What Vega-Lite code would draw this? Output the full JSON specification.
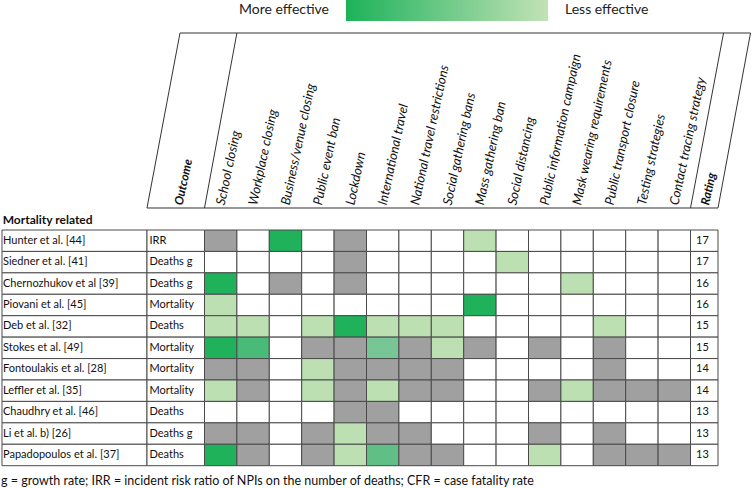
{
  "$schema": "https://vega.github.io/schema/vega-lite/v6.json",
  "width": 752,
  "height": 488,
  "autosize": {"type": "none"},
  "padding": 0,
  "background": "white",
  "config": {"view": {"stroke": null}, "font": "Lato"},
  "datasets": {
    "npis": [
      {"npi": "School closing"}, {"npi": "Workplace closing"}, {"npi": "Business/venue closing"}, {"npi": "Public event ban"}, {"npi": "Lockdown"},
      {"npi": "International travel"}, {"npi": "National travel restrictions"}, {"npi": "Social gathering bans"}, {"npi": "Mass gathering ban"}, {"npi": "Social distancing"},
      {"npi": "Public information campaign"}, {"npi": "Mask wearing requirements"}, {"npi": "Public transport closure"}, {"npi": "Testing strategies"}, {"npi": "Contact tracing strategy"}
    ],
    "studies": [
      {"study": "Hunter et al. [44]", "outcome": "IRR", "rating": 17},
      {"study": "Siedner et al. [41]", "outcome": "Deaths g", "rating": 17},
      {"study": "Chernozhukov et al [39]", "outcome": "Deaths g", "rating": 16},
      {"study": "Piovani et al. [45]", "outcome": "Mortality", "rating": 16},
      {"study": "Deb et al. [32]", "outcome": "Deaths", "rating": 15},
      {"study": "Stokes et al. [49]", "outcome": "Mortality", "rating": 15},
      {"study": "Fontoulakis et al. [28]", "outcome": "Mortality", "rating": 14},
      {"study": "Leffler et al. [35]", "outcome": "Mortality", "rating": 14},
      {"study": "Chaudhry et al. [46]", "outcome": "Deaths", "rating": 13},
      {"study": "Li et al. b) [26]", "outcome": "Deaths g", "rating": 13},
      {"study": "Papadopoulos et al. [37]", "outcome": "Deaths", "rating": 13}
    ],
    "cells": [
      {"study": "Hunter et al. [44]", "npi": "School closing", "effect": "no effect"},
      {"study": "Hunter et al. [44]", "npi": "Workplace closing", "effect": "not studied"},
      {"study": "Hunter et al. [44]", "npi": "Business/venue closing", "effect": "1"},
      {"study": "Hunter et al. [44]", "npi": "Public event ban", "effect": "not studied"},
      {"study": "Hunter et al. [44]", "npi": "Lockdown", "effect": "no effect"},
      {"study": "Hunter et al. [44]", "npi": "International travel", "effect": "not studied"},
      {"study": "Hunter et al. [44]", "npi": "National travel restrictions", "effect": "not studied"},
      {"study": "Hunter et al. [44]", "npi": "Social gathering bans", "effect": "not studied"},
      {"study": "Hunter et al. [44]", "npi": "Mass gathering ban", "effect": "5"},
      {"study": "Hunter et al. [44]", "npi": "Social distancing", "effect": "not studied"},
      {"study": "Hunter et al. [44]", "npi": "Public information campaign", "effect": "not studied"},
      {"study": "Hunter et al. [44]", "npi": "Mask wearing requirements", "effect": "not studied"},
      {"study": "Hunter et al. [44]", "npi": "Public transport closure", "effect": "not studied"},
      {"study": "Hunter et al. [44]", "npi": "Testing strategies", "effect": "not studied"},
      {"study": "Hunter et al. [44]", "npi": "Contact tracing strategy", "effect": "not studied"},

      {"study": "Siedner et al. [41]", "npi": "School closing", "effect": "not studied"},
      {"study": "Siedner et al. [41]", "npi": "Workplace closing", "effect": "not studied"},
      {"study": "Siedner et al. [41]", "npi": "Business/venue closing", "effect": "not studied"},
      {"study": "Siedner et al. [41]", "npi": "Public event ban", "effect": "not studied"},
      {"study": "Siedner et al. [41]", "npi": "Lockdown", "effect": "no effect"},
      {"study": "Siedner et al. [41]", "npi": "International travel", "effect": "not studied"},
      {"study": "Siedner et al. [41]", "npi": "National travel restrictions", "effect": "not studied"},
      {"study": "Siedner et al. [41]", "npi": "Social gathering bans", "effect": "not studied"},
      {"study": "Siedner et al. [41]", "npi": "Mass gathering ban", "effect": "not studied"},
      {"study": "Siedner et al. [41]", "npi": "Social distancing", "effect": "5"},
      {"study": "Siedner et al. [41]", "npi": "Public information campaign", "effect": "not studied"},
      {"study": "Siedner et al. [41]", "npi": "Mask wearing requirements", "effect": "not studied"},
      {"study": "Siedner et al. [41]", "npi": "Public transport closure", "effect": "not studied"},
      {"study": "Siedner et al. [41]", "npi": "Testing strategies", "effect": "not studied"},
      {"study": "Siedner et al. [41]", "npi": "Contact tracing strategy", "effect": "not studied"},

      {"study": "Chernozhukov et al [39]", "npi": "School closing", "effect": "1"},
      {"study": "Chernozhukov et al [39]", "npi": "Workplace closing", "effect": "not studied"},
      {"study": "Chernozhukov et al [39]", "npi": "Business/venue closing", "effect": "no effect"},
      {"study": "Chernozhukov et al [39]", "npi": "Public event ban", "effect": "not studied"},
      {"study": "Chernozhukov et al [39]", "npi": "Lockdown", "effect": "no effect"},
      {"study": "Chernozhukov et al [39]", "npi": "International travel", "effect": "not studied"},
      {"study": "Chernozhukov et al [39]", "npi": "National travel restrictions", "effect": "not studied"},
      {"study": "Chernozhukov et al [39]", "npi": "Social gathering bans", "effect": "not studied"},
      {"study": "Chernozhukov et al [39]", "npi": "Mass gathering ban", "effect": "not studied"},
      {"study": "Chernozhukov et al [39]", "npi": "Social distancing", "effect": "not studied"},
      {"study": "Chernozhukov et al [39]", "npi": "Public information campaign", "effect": "not studied"},
      {"study": "Chernozhukov et al [39]", "npi": "Mask wearing requirements", "effect": "5"},
      {"study": "Chernozhukov et al [39]", "npi": "Public transport closure", "effect": "not studied"},
      {"study": "Chernozhukov et al [39]", "npi": "Testing strategies", "effect": "not studied"},
      {"study": "Chernozhukov et al [39]", "npi": "Contact tracing strategy", "effect": "not studied"},

      {"study": "Piovani et al. [45]", "npi": "School closing", "effect": "5"},
      {"study": "Piovani et al. [45]", "npi": "Workplace closing", "effect": "not studied"},
      {"study": "Piovani et al. [45]", "npi": "Business/venue closing", "effect": "not studied"},
      {"study": "Piovani et al. [45]", "npi": "Public event ban", "effect": "not studied"},
      {"study": "Piovani et al. [45]", "npi": "Lockdown", "effect": "not studied"},
      {"study": "Piovani et al. [45]", "npi": "International travel", "effect": "not studied"},
      {"study": "Piovani et al. [45]", "npi": "National travel restrictions", "effect": "not studied"},
      {"study": "Piovani et al. [45]", "npi": "Social gathering bans", "effect": "not studied"},
      {"study": "Piovani et al. [45]", "npi": "Mass gathering ban", "effect": "1"},
      {"study": "Piovani et al. [45]", "npi": "Social distancing", "effect": "not studied"},
      {"study": "Piovani et al. [45]", "npi": "Public information campaign", "effect": "not studied"},
      {"study": "Piovani et al. [45]", "npi": "Mask wearing requirements", "effect": "not studied"},
      {"study": "Piovani et al. [45]", "npi": "Public transport closure", "effect": "not studied"},
      {"study": "Piovani et al. [45]", "npi": "Testing strategies", "effect": "not studied"},
      {"study": "Piovani et al. [45]", "npi": "Contact tracing strategy", "effect": "not studied"},

      {"study": "Deb et al. [32]", "npi": "School closing", "effect": "5"},
      {"study": "Deb et al. [32]", "npi": "Workplace closing", "effect": "5"},
      {"study": "Deb et al. [32]", "npi": "Business/venue closing", "effect": "not studied"},
      {"study": "Deb et al. [32]", "npi": "Public event ban", "effect": "5"},
      {"study": "Deb et al. [32]", "npi": "Lockdown", "effect": "1"},
      {"study": "Deb et al. [32]", "npi": "International travel", "effect": "5"},
      {"study": "Deb et al. [32]", "npi": "National travel restrictions", "effect": "5"},
      {"study": "Deb et al. [32]", "npi": "Social gathering bans", "effect": "5"},
      {"study": "Deb et al. [32]", "npi": "Mass gathering ban", "effect": "not studied"},
      {"study": "Deb et al. [32]", "npi": "Social distancing", "effect": "not studied"},
      {"study": "Deb et al. [32]", "npi": "Public information campaign", "effect": "not studied"},
      {"study": "Deb et al. [32]", "npi": "Mask wearing requirements", "effect": "not studied"},
      {"study": "Deb et al. [32]", "npi": "Public transport closure", "effect": "5"},
      {"study": "Deb et al. [32]", "npi": "Testing strategies", "effect": "not studied"},
      {"study": "Deb et al. [32]", "npi": "Contact tracing strategy", "effect": "not studied"},

      {"study": "Stokes et al. [49]", "npi": "School closing", "effect": "1"},
      {"study": "Stokes et al. [49]", "npi": "Workplace closing", "effect": "2"},
      {"study": "Stokes et al. [49]", "npi": "Business/venue closing", "effect": "not studied"},
      {"study": "Stokes et al. [49]", "npi": "Public event ban", "effect": "no effect"},
      {"study": "Stokes et al. [49]", "npi": "Lockdown", "effect": "no effect"},
      {"study": "Stokes et al. [49]", "npi": "International travel", "effect": "4"},
      {"study": "Stokes et al. [49]", "npi": "National travel restrictions", "effect": "no effect"},
      {"study": "Stokes et al. [49]", "npi": "Social gathering bans", "effect": "5"},
      {"study": "Stokes et al. [49]", "npi": "Mass gathering ban", "effect": "no effect"},
      {"study": "Stokes et al. [49]", "npi": "Social distancing", "effect": "not studied"},
      {"study": "Stokes et al. [49]", "npi": "Public information campaign", "effect": "no effect"},
      {"study": "Stokes et al. [49]", "npi": "Mask wearing requirements", "effect": "not studied"},
      {"study": "Stokes et al. [49]", "npi": "Public transport closure", "effect": "no effect"},
      {"study": "Stokes et al. [49]", "npi": "Testing strategies", "effect": "not studied"},
      {"study": "Stokes et al. [49]", "npi": "Contact tracing strategy", "effect": "not studied"},

      {"study": "Fontoulakis et al. [28]", "npi": "School closing", "effect": "no effect"},
      {"study": "Fontoulakis et al. [28]", "npi": "Workplace closing", "effect": "no effect"},
      {"study": "Fontoulakis et al. [28]", "npi": "Business/venue closing", "effect": "not studied"},
      {"study": "Fontoulakis et al. [28]", "npi": "Public event ban", "effect": "5"},
      {"study": "Fontoulakis et al. [28]", "npi": "Lockdown", "effect": "no effect"},
      {"study": "Fontoulakis et al. [28]", "npi": "International travel", "effect": "no effect"},
      {"study": "Fontoulakis et al. [28]", "npi": "National travel restrictions", "effect": "no effect"},
      {"study": "Fontoulakis et al. [28]", "npi": "Social gathering bans", "effect": "no effect"},
      {"study": "Fontoulakis et al. [28]", "npi": "Mass gathering ban", "effect": "not studied"},
      {"study": "Fontoulakis et al. [28]", "npi": "Social distancing", "effect": "not studied"},
      {"study": "Fontoulakis et al. [28]", "npi": "Public information campaign", "effect": "not studied"},
      {"study": "Fontoulakis et al. [28]", "npi": "Mask wearing requirements", "effect": "not studied"},
      {"study": "Fontoulakis et al. [28]", "npi": "Public transport closure", "effect": "no effect"},
      {"study": "Fontoulakis et al. [28]", "npi": "Testing strategies", "effect": "not studied"},
      {"study": "Fontoulakis et al. [28]", "npi": "Contact tracing strategy", "effect": "not studied"},

      {"study": "Leffler et al. [35]", "npi": "School closing", "effect": "5"},
      {"study": "Leffler et al. [35]", "npi": "Workplace closing", "effect": "no effect"},
      {"study": "Leffler et al. [35]", "npi": "Business/venue closing", "effect": "not studied"},
      {"study": "Leffler et al. [35]", "npi": "Public event ban", "effect": "5"},
      {"study": "Leffler et al. [35]", "npi": "Lockdown", "effect": "no effect"},
      {"study": "Leffler et al. [35]", "npi": "International travel", "effect": "5"},
      {"study": "Leffler et al. [35]", "npi": "National travel restrictions", "effect": "no effect"},
      {"study": "Leffler et al. [35]", "npi": "Social gathering bans", "effect": "no effect"},
      {"study": "Leffler et al. [35]", "npi": "Mass gathering ban", "effect": "not studied"},
      {"study": "Leffler et al. [35]", "npi": "Social distancing", "effect": "not studied"},
      {"study": "Leffler et al. [35]", "npi": "Public information campaign", "effect": "no effect"},
      {"study": "Leffler et al. [35]", "npi": "Mask wearing requirements", "effect": "5"},
      {"study": "Leffler et al. [35]", "npi": "Public transport closure", "effect": "no effect"},
      {"study": "Leffler et al. [35]", "npi": "Testing strategies", "effect": "no effect"},
      {"study": "Leffler et al. [35]", "npi": "Contact tracing strategy", "effect": "no effect"},

      {"study": "Chaudhry et al. [46]", "npi": "School closing", "effect": "not studied"},
      {"study": "Chaudhry et al. [46]", "npi": "Workplace closing", "effect": "not studied"},
      {"study": "Chaudhry et al. [46]", "npi": "Business/venue closing", "effect": "not studied"},
      {"study": "Chaudhry et al. [46]", "npi": "Public event ban", "effect": "not studied"},
      {"study": "Chaudhry et al. [46]", "npi": "Lockdown", "effect": "no effect"},
      {"study": "Chaudhry et al. [46]", "npi": "International travel", "effect": "no effect"},
      {"study": "Chaudhry et al. [46]", "npi": "National travel restrictions", "effect": "not studied"},
      {"study": "Chaudhry et al. [46]", "npi": "Social gathering bans", "effect": "not studied"},
      {"study": "Chaudhry et al. [46]", "npi": "Mass gathering ban", "effect": "not studied"},
      {"study": "Chaudhry et al. [46]", "npi": "Social distancing", "effect": "not studied"},
      {"study": "Chaudhry et al. [46]", "npi": "Public information campaign", "effect": "not studied"},
      {"study": "Chaudhry et al. [46]", "npi": "Mask wearing requirements", "effect": "not studied"},
      {"study": "Chaudhry et al. [46]", "npi": "Public transport closure", "effect": "not studied"},
      {"study": "Chaudhry et al. [46]", "npi": "Testing strategies", "effect": "not studied"},
      {"study": "Chaudhry et al. [46]", "npi": "Contact tracing strategy", "effect": "not studied"},

      {"study": "Li et al. b) [26]", "npi": "School closing", "effect": "no effect"},
      {"study": "Li et al. b) [26]", "npi": "Workplace closing", "effect": "no effect"},
      {"study": "Li et al. b) [26]", "npi": "Business/venue closing", "effect": "not studied"},
      {"study": "Li et al. b) [26]", "npi": "Public event ban", "effect": "no effect"},
      {"study": "Li et al. b) [26]", "npi": "Lockdown", "effect": "5"},
      {"study": "Li et al. b) [26]", "npi": "International travel", "effect": "no effect"},
      {"study": "Li et al. b) [26]", "npi": "National travel restrictions", "effect": "no effect"},
      {"study": "Li et al. b) [26]", "npi": "Social gathering bans", "effect": "not studied"},
      {"study": "Li et al. b) [26]", "npi": "Mass gathering ban", "effect": "not studied"},
      {"study": "Li et al. b) [26]", "npi": "Social distancing", "effect": "not studied"},
      {"study": "Li et al. b) [26]", "npi": "Public information campaign", "effect": "no effect"},
      {"study": "Li et al. b) [26]", "npi": "Mask wearing requirements", "effect": "not studied"},
      {"study": "Li et al. b) [26]", "npi": "Public transport closure", "effect": "no effect"},
      {"study": "Li et al. b) [26]", "npi": "Testing strategies", "effect": "not studied"},
      {"study": "Li et al. b) [26]", "npi": "Contact tracing strategy", "effect": "not studied"},

      {"study": "Papadopoulos et al. [37]", "npi": "School closing", "effect": "1"},
      {"study": "Papadopoulos et al. [37]", "npi": "Workplace closing", "effect": "no effect"},
      {"study": "Papadopoulos et al. [37]", "npi": "Business/venue closing", "effect": "not studied"},
      {"study": "Papadopoulos et al. [37]", "npi": "Public event ban", "effect": "no effect"},
      {"study": "Papadopoulos et al. [37]", "npi": "Lockdown", "effect": "5"},
      {"study": "Papadopoulos et al. [37]", "npi": "International travel", "effect": "3"},
      {"study": "Papadopoulos et al. [37]", "npi": "National travel restrictions", "effect": "no effect"},
      {"study": "Papadopoulos et al. [37]", "npi": "Social gathering bans", "effect": "no effect"},
      {"study": "Papadopoulos et al. [37]", "npi": "Mass gathering ban", "effect": "not studied"},
      {"study": "Papadopoulos et al. [37]", "npi": "Social distancing", "effect": "not studied"},
      {"study": "Papadopoulos et al. [37]", "npi": "Public information campaign", "effect": "5"},
      {"study": "Papadopoulos et al. [37]", "npi": "Mask wearing requirements", "effect": "not studied"},
      {"study": "Papadopoulos et al. [37]", "npi": "Public transport closure", "effect": "no effect"},
      {"study": "Papadopoulos et al. [37]", "npi": "Testing strategies", "effect": "no effect"},
      {"study": "Papadopoulos et al. [37]", "npi": "Contact tracing strategy", "effect": "no effect"}
    ]
  },
  "resolve": {"scale": {"x": "independent", "y": "independent"}},
  "layer": [
    {
      "data": {"values": [{}]},
      "layer": [
        {
          "mark": {"type": "rect", "fill": {"gradient": "linear", "x1": 0, "y1": 0, "x2": 1, "y2": 0, "stops": [{"offset": 0, "color": "#1db25a"}, {"offset": 1, "color": "#c2e2b6"}]}},
          "encoding": {
            "x": {"datum": 4.367, "type": "quantitative", "scale": {"domain": [-6.3117, 16.8981], "range": [0, 752], "nice": false, "zero": false}, "axis": null},
            "x2": {"datum": 10.602},
            "y": {"datum": -10.733, "type": "quantitative", "scale": {"domain": [-10.733, 12.039], "range": [0, 488], "nice": false, "zero": false}, "axis": null},
            "y2": {"datum": -9.753}
          }
        },
        {
          "mark": {"type": "text", "text": "More effective", "align": "right", "baseline": "middle", "fontSize": 14, "color": "#222"},
          "encoding": {"x": {"datum": 3.843, "type": "quantitative"}, "y": {"datum": -10.27, "type": "quantitative"}}
        },
        {
          "mark": {"type": "text", "text": "Less effective", "align": "left", "baseline": "middle", "fontSize": 14, "color": "#222"},
          "encoding": {"x": {"datum": 11.127, "type": "quantitative"}, "y": {"datum": -10.27, "type": "quantitative"}}
        },
        {
          "mark": {"type": "rule", "color": "#333", "strokeWidth": 1},
          "encoding": {"x": {"datum": -0.756, "type": "quantitative"}, "x2": {"datum": 16.852}, "y": {"datum": -9.193, "type": "quantitative"}, "y2": {"datum": -9.193}}
        },
        {
          "mark": {"type": "rule", "color": "#333", "strokeWidth": 1},
          "encoding": {"x": {"datum": -1.775, "type": "quantitative"}, "x2": {"datum": 15.849}, "y": {"datum": -1.027, "type": "quantitative"}, "y2": {"datum": -1.027}}
        },
        {
          "mark": {"type": "rule", "color": "#333", "strokeWidth": 1},
          "encoding": {"x": {"datum": -1.775, "type": "quantitative"}, "x2": {"datum": -0.756}, "y": {"datum": -1.027, "type": "quantitative"}, "y2": {"datum": -9.193}}
        },
        {
          "mark": {"type": "rule", "color": "#333", "strokeWidth": 1},
          "encoding": {"x": {"datum": 0.0, "type": "quantitative"}, "x2": {"datum": 1.0}, "y": {"datum": -1.027, "type": "quantitative"}, "y2": {"datum": -9.193}}
        },
        {
          "mark": {"type": "rule", "color": "#333", "strokeWidth": 1},
          "encoding": {"x": {"datum": 15.0, "type": "quantitative"}, "x2": {"datum": 16.02}, "y": {"datum": -1.027, "type": "quantitative"}, "y2": {"datum": -9.193}}
        },
        {
          "mark": {"type": "rule", "color": "#333", "strokeWidth": 1},
          "encoding": {"x": {"datum": 15.849, "type": "quantitative"}, "x2": {"datum": 16.852}, "y": {"datum": -1.027, "type": "quantitative"}, "y2": {"datum": -9.193}}
        },
        {
          "mark": {"type": "text", "text": "Outcome", "align": "left", "baseline": "middle", "angle": -78, "fontSize": 12, "fontWeight": "bold", "fontStyle": "italic", "color": "#111"},
          "encoding": {"x": {"datum": -0.802, "type": "quantitative"}, "y": {"datum": -1.167, "type": "quantitative"}}
        },
        {
          "mark": {"type": "text", "text": "Rating", "align": "left", "baseline": "middle", "angle": -78, "fontSize": 12, "fontWeight": "bold", "fontStyle": "italic", "color": "#111"},
          "encoding": {"x": {"datum": 15.448, "type": "quantitative"}, "y": {"datum": -1.167, "type": "quantitative"}}
        },
        {
          "mark": {"type": "text", "text": "Mortality related", "align": "left", "baseline": "middle", "fontSize": 12, "fontWeight": "bold", "color": "#111"},
          "encoding": {"x": {"datum": -6.228, "type": "quantitative"}, "y": {"datum": -0.49, "type": "quantitative"}}
        },
        {
          "mark": {"type": "text", "text": "g = growth rate; IRR = incident risk ratio of NPIs on the number of deaths; CFR = case fatality rate", "align": "left", "baseline": "middle", "fontSize": 12.5, "color": "#111"},
          "encoding": {"x": {"datum": -6.28, "type": "quantitative"}, "y": {"datum": 11.713, "type": "quantitative"}}
        }
      ]
    },
    {
      "data": {"name": "cells"},
      "mark": {"type": "rect", "stroke": "#4a4a4a", "strokeWidth": 1},
      "encoding": {
        "x": {"field": "npi", "type": "nominal", "scale": {"domain": ["School closing", "Workplace closing", "Business/venue closing", "Public event ban", "Lockdown", "International travel", "National travel restrictions", "Social gathering bans", "Mass gathering ban", "Social distancing", "Public information campaign", "Mask wearing requirements", "Public transport closure", "Testing strategies", "Contact tracing strategy"], "range": [204.5, 690.5], "paddingInner": 0, "paddingOuter": 0}, "axis": null},
        "y": {"field": "study", "type": "nominal", "scale": {"domain": ["Hunter et al. [44]", "Siedner et al. [41]", "Chernozhukov et al [39]", "Piovani et al. [45]", "Deb et al. [32]", "Stokes et al. [49]", "Fontoulakis et al. [28]", "Leffler et al. [35]", "Chaudhry et al. [46]", "Li et al. b) [26]", "Papadopoulos et al. [37]"], "range": [230, 465.7], "paddingInner": 0, "paddingOuter": 0}, "axis": null},
        "fill": {"field": "effect", "type": "nominal", "scale": {"domain": ["1", "2", "3", "4", "5", "no effect", "not studied"], "range": ["#1fb25a", "#4aba78", "#5fbf85", "#78c695", "#bde0b3", "#a0a0a0", "#ffffff"]}, "legend": null}
      }
    },
    {
      "data": {"name": "studies"},
      "encoding": {
        "y": {"field": "study", "type": "nominal", "scale": {"domain": ["Hunter et al. [44]", "Siedner et al. [41]", "Chernozhukov et al [39]", "Piovani et al. [45]", "Deb et al. [32]", "Stokes et al. [49]", "Fontoulakis et al. [28]", "Leffler et al. [35]", "Chaudhry et al. [46]", "Li et al. b) [26]", "Papadopoulos et al. [37]"], "range": [230, 465.7], "paddingInner": 0, "paddingOuter": 0}, "axis": null}
      },
      "layer": [
        {
          "mark": {"type": "rect", "fill": "white", "stroke": "#4a4a4a", "strokeWidth": 1},
          "encoding": {"x": {"datum": -6.25, "type": "quantitative", "scale": {"domain": [-6.3117, 16.8981], "range": [0, 752], "nice": false, "zero": false}, "axis": null}, "x2": {"datum": -1.775}}
        },
        {
          "mark": {"type": "rect", "fill": "white", "stroke": "#4a4a4a", "strokeWidth": 1},
          "encoding": {"x": {"datum": -1.775, "type": "quantitative"}, "x2": {"datum": 0}}
        },
        {
          "mark": {"type": "rect", "fill": "white", "stroke": "#4a4a4a", "strokeWidth": 1},
          "encoding": {"x": {"datum": 15, "type": "quantitative"}, "x2": {"datum": 15.849}}
        },
        {
          "mark": {"type": "text", "align": "left", "baseline": "middle", "fontSize": 11, "color": "#111"},
          "encoding": {"x": {"datum": -6.219, "type": "quantitative"}, "text": {"field": "study"}}
        },
        {
          "mark": {"type": "text", "align": "left", "baseline": "middle", "fontSize": 11, "color": "#111"},
          "encoding": {"x": {"datum": -1.698, "type": "quantitative"}, "text": {"field": "outcome"}}
        },
        {
          "mark": {"type": "text", "align": "center", "baseline": "middle", "fontSize": 11, "color": "#111"},
          "encoding": {"x": {"datum": 15.37, "type": "quantitative"}, "text": {"field": "rating"}}
        }
      ]
    },
    {
      "data": {"name": "npis"},
      "mark": {"type": "text", "align": "left", "baseline": "middle", "angle": -78, "fontSize": 13, "fontStyle": "italic", "color": "#111"},
      "encoding": {
        "x": {"field": "npi", "type": "nominal", "bandPosition": 0.4, "scale": {"domain": ["School closing", "Workplace closing", "Business/venue closing", "Public event ban", "Lockdown", "International travel", "National travel restrictions", "Social gathering bans", "Mass gathering ban", "Social distancing", "Public information campaign", "Mask wearing requirements", "Public transport closure", "Testing strategies", "Contact tracing strategy"], "range": [204.5, 690.5], "paddingInner": 0, "paddingOuter": 0}, "axis": null},
        "y": {"datum": -1.167, "type": "quantitative", "scale": {"domain": [-10.733, 12.039], "range": [0, 488], "nice": false, "zero": false}, "axis": null},
        "text": {"field": "npi"}
      }
    }
  ]
}
